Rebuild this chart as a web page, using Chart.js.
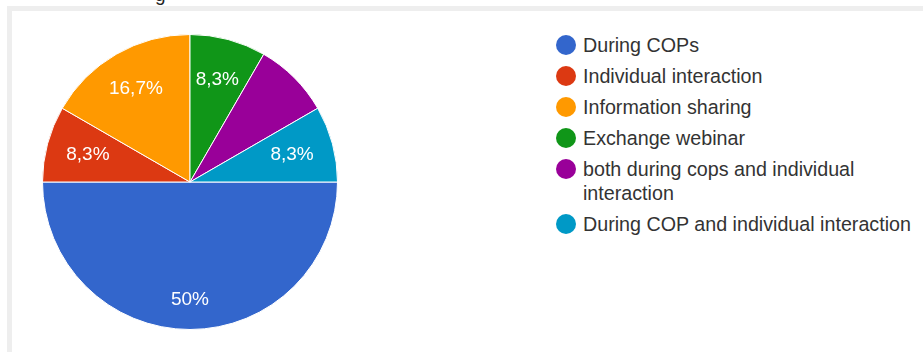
<!DOCTYPE html>
<html>
<head>
<meta charset="utf-8">
<script src="https://cdn.jsdelivr.net/npm/chart.js@4"></script>
<style>
  html, body { margin: 0; padding: 0; background: #fff; width: 923px; height: 352px; overflow: hidden; font-family: "Liberation Sans", Arial, sans-serif; }
  #cut { position: absolute; left: 155px; top: -15px; font-size: 19px; color: #222; line-height: 19px; }
  #frame { position: absolute; left: 7px; top: 6px; right: 0; bottom: 0; border-top: 5px solid #eeeeee; border-left: 5px solid #eeeeee; background: #fff; }
  #pieBox { position: absolute; left: 12px; top: 11px; width: 356px; height: 341px; }
  #legend { position: absolute; left: 556px; top: 33px; list-style: none; margin: 0; padding: 0; }
  #legend li { position: relative; padding-left: 27px; font-size: 19.7px; line-height: 24px; color: #333; margin-bottom: 7px; width: 345px; }
  #legend li span { position: absolute; left: 0; top: 2px; width: 20px; height: 20px; border-radius: 50%; }
</style>
</head>
<body>
<div id="cut">g</div>
<div id="frame"></div>
<div id="pieBox"><canvas id="pieChart"></canvas></div>
<ul id="legend"></ul>
<script>
const categories = [
  'During COPs',
  'Individual interaction',
  'Information sharing',
  'Exchange webinar',
  'both during cops and individual interaction',
  'During COP and individual interaction'
];
const responses = [6, 1, 2, 1, 1, 1];
const sliceLabels = ['50%', '8,3%', '16,7%', '8,3%', '', '8,3%'];
const colors = ['#3366cc', '#dc3912', '#ff9900', '#109618', '#990099', '#0099c6'];

const legendEl = document.getElementById('legend');
categories.forEach((c, i) => {
  const li = document.createElement('li');
  const dot = document.createElement('span');
  dot.style.background = colors[i];
  li.appendChild(dot);
  li.appendChild(document.createTextNode(c));
  legendEl.appendChild(li);
});

const total = responses.reduce((a, b) => a + b, 0);

const sliceText = {
  id: 'sliceText',
  afterDatasetsDraw(chart) {
    const ctx = chart.ctx;
    const arcs = chart.getDatasetMeta(0).data;
    ctx.save();
    ctx.font = '19px "Liberation Sans", Arial, sans-serif';
    ctx.fillStyle = '#ffffff';
    ctx.textAlign = 'center';
    ctx.textBaseline = 'middle';
    arcs.forEach((arc, i) => {
      if (!sliceLabels[i]) return;
      const p = arc.getProps(['x', 'y', 'startAngle', 'endAngle', 'outerRadius'], true);
      const mid = (p.startAngle + p.endAngle) / 2;
      const f = 0.7 + 0.2 * responses[i] / total;
      ctx.fillText(sliceLabels[i], p.x + Math.cos(mid) * p.outerRadius * f, p.y + Math.sin(mid) * p.outerRadius * f);
    });
    ctx.restore();
  }
};

new Chart(document.getElementById('pieChart'), {
  type: 'pie',
  data: {
    labels: categories,
    datasets: [{
      data: responses,
      backgroundColor: colors,
      borderColor: '#ffffff',
      borderWidth: 1
    }]
  },
  options: {
    responsive: true,
    maintainAspectRatio: false,
    animation: false,
    rotation: 90,
    layout: { padding: { top: 23, bottom: 22, left: 0, right: 0 } },
    plugins: {
      legend: { display: false },
      tooltip: { enabled: false }
    }
  },
  plugins: [sliceText]
});
</script>
</body>
</html>
